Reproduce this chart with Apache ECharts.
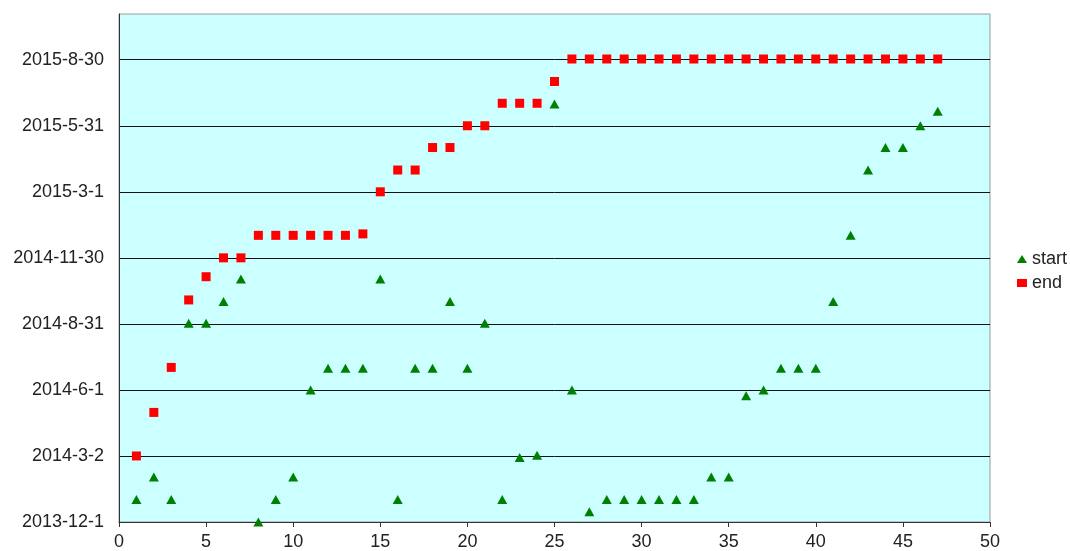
<!DOCTYPE html>
<html>
<head>
<meta charset="utf-8">
<script src="https://cdn.jsdelivr.net/npm/echarts@6/dist/echarts.min.js"></script>
<style>
  html, body { margin: 0; padding: 0; background: #fff; }
  #chart { width: 1070px; height: 551px; }
</style>
</head>
<body>
<div id="chart"></div>
<script>
// Item numbers along the x axis
const items = [1,2,3,4,5,6,7,8,9,10,11,12,13,14,15,16,17,18,19,20,21,22,23,24,25,26,27,28,29,30,31,32,33,34,35,36,37,38,39,40,41,42,43,44,45,46,47];

// Start date of each item
const startDates = [
  '2014-1-1','2014-2-1','2014-1-1','2014-9-1','2014-9-1','2014-10-1','2014-11-1','2013-12-1','2014-1-1','2014-2-1',
  '2014-6-1','2014-7-1','2014-7-1','2014-7-1','2014-11-1','2014-1-1','2014-7-1','2014-7-1','2014-10-1','2014-7-1',
  '2014-9-1','2014-1-1','2014-2-28','2014-3-3','2015-6-30','2014-6-1','2013-12-15','2014-1-1','2014-1-1','2014-1-1',
  '2014-1-1','2014-1-1','2014-1-1','2014-2-1','2014-2-1','2014-5-24','2014-6-1','2014-7-1','2014-7-1','2014-7-1',
  '2014-10-1','2014-12-31','2015-3-31','2015-5-1','2015-5-1','2015-5-31','2015-6-20'
];

// End date of each item
const endDates = [
  '2014-3-2','2014-5-1','2014-7-2','2014-10-3','2014-11-4','2014-11-30','2014-11-30','2014-12-31','2014-12-31','2014-12-31',
  '2014-12-31','2014-12-31','2014-12-31','2015-1-2','2015-3-1','2015-3-31','2015-3-31','2015-5-1','2015-5-1','2015-5-31',
  '2015-5-31','2015-7-1','2015-7-1','2015-7-1','2015-7-31','2015-8-31','2015-8-31','2015-8-31','2015-8-31','2015-8-31',
  '2015-8-31','2015-8-31','2015-8-31','2015-8-31','2015-8-31','2015-8-31','2015-8-31','2015-8-31','2015-8-31','2015-8-31',
  '2015-8-31','2015-8-31','2015-8-31','2015-8-31','2015-8-31','2015-8-31','2015-8-31'
];

// Date axis range: origin, last date shown, and tick step in days
const axisStart = '2013-12-1';
const axisEnd = '2015-11-1';
const tickDays = 91;

const DAY = 86400000;
function toUTC(s) {
  const p = s.split('-').map(Number);
  return Date.UTC(p[0], p[1] - 1, p[2]);
}
const origin = toUTC(axisStart);
function dayOffset(s) { return Math.round((toUTC(s) - origin) / DAY); }
function dayLabel(v) {
  const d = new Date(origin + v * DAY);
  return d.getUTCFullYear() + '-' + (d.getUTCMonth() + 1) + '-' + d.getUTCDate();
}

const startData = items.map((x, i) => [x, dayOffset(startDates[i])]);
const endData = items.map((x, i) => [x, dayOffset(endDates[i])]);

const font = '"Liberation Sans", Arial, sans-serif';
const chart = echarts.init(document.getElementById('chart'), null, { renderer: 'canvas' });
chart.setOption({
  animation: false,
  backgroundColor: '#ffffff',
  grid: {
    left: 119, right: 80, top: 14, bottom: 29,
    show: true, backgroundColor: '#ccffff', borderColor: '#9a9a9a', borderWidth: 1
  },
  legend: {
    orient: 'vertical',
    left: 1012, top: 245,
    itemWidth: 10, itemHeight: 8, itemGap: 6,
    textStyle: { fontFamily: font, fontSize: 18, color: '#222' },
    data: [
      { name: 'start', icon: 'triangle' },
      { name: 'end', icon: 'rect' }
    ]
  },
  xAxis: {
    type: 'value',
    min: 0, max: 50, interval: 5,
    axisLine: { show: true, lineStyle: { color: '#333', width: 1 } },
    axisTick: { show: true, length: 5, lineStyle: { color: '#333' } },
    axisLabel: { fontFamily: font, fontSize: 18, color: '#222', margin: 11 },
    splitLine: { show: false }
  },
  yAxis: {
    type: 'value',
    min: 0, max: dayOffset(axisEnd), interval: tickDays,
    axisLine: { show: true, lineStyle: { color: '#333', width: 1 } },
    axisTick: { show: false },
    axisLabel: {
      fontFamily: font, fontSize: 18, color: '#222', margin: 15,
      showMaxLabel: false,
      formatter: v => dayLabel(v)
    },
    splitLine: { show: true, showMaxLine: false, lineStyle: { color: '#111', width: 1 } }
  },
  series: [
    {
      name: 'start', type: 'scatter', data: startData,
      symbol: 'triangle', symbolSize: [10, 9],
      itemStyle: { color: '#008000', opacity: 1 }, z: 3
    },
    {
      name: 'end', type: 'scatter', data: endData,
      symbol: 'rect', symbolSize: 9,
      itemStyle: { color: '#ff0000', opacity: 1 }, z: 2
    }
  ]
});
</script>
</body>
</html>
